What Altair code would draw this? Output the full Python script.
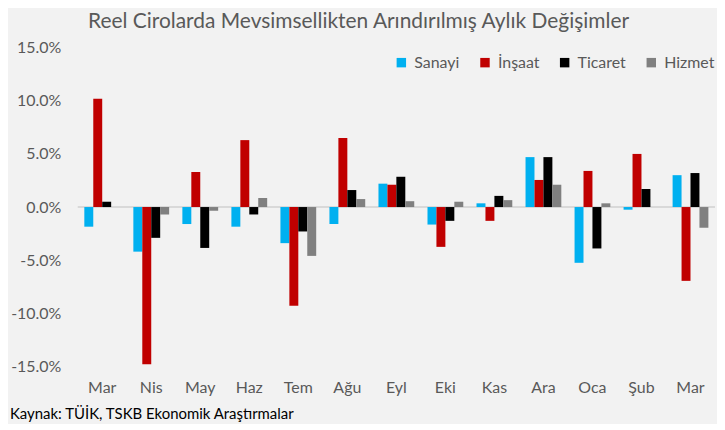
import altair as alt
import pandas as pd

months = ["Mar", "Nis", "May", "Haz", "Tem", "Ağu", "Eyl", "Eki", "Kas", "Ara", "Oca", "Şub", "Mar"]
series = ["Sanayi", "İnşaat", "Ticaret", "Hizmet"]
colors = ["#00b0f0", "#c00000", "#000000", "#808080"]

sanayi = [-1.85, -4.2, -1.6, -1.85, -3.4, -1.6, 2.2, -1.65, 0.35, 4.7, -5.25, -0.25, 3.0]
insaat = [10.2, -14.8, 3.3, 6.3, -9.3, 6.5, 2.1, -3.75, -1.3, 2.55, 3.4, 5.0, -6.95]
ticaret = [0.5, -2.9, -3.85, -0.7, -2.3, 1.6, 2.85, -1.3, 1.05, 4.7, -3.9, 1.7, 3.2]
hizmet = [0.0, -0.7, -0.35, 0.85, -4.6, 0.75, 0.55, 0.5, 0.65, 2.1, 0.35, 0.0, -1.95]

rows = []
for name, vals in zip(series, [sanayi, insaat, ticaret, hizmet]):
    for i, v in enumerate(vals):
        rows.append({"idx": i, "seri": name, "deger": v})
df = pd.DataFrame(rows)

FONT = "Lato"
GRAY = "#595959"
label_expr = "[" + ",".join("'" + m + "'" for m in months) + "][datum.value]"

bars = alt.Chart(df).mark_bar().encode(
    x=alt.X("idx:O", title=None,
            scale=alt.Scale(paddingInner=0.27, paddingOuter=0.135),
            axis=alt.Axis(labelExpr=label_expr, labelAngle=0, domain=False, ticks=False,
                          labelPadding=13, labelFontSize=16, labelColor=GRAY, labelFont=FONT)),
    xOffset=alt.XOffset("seri:N", sort=series, scale=alt.Scale(paddingInner=0, paddingOuter=0)),
    y=alt.Y("deger:Q", title=None,
            scale=alt.Scale(domain=[-15, 15], nice=False),
            axis=alt.Axis(values=[-15, -10, -5, 0, 5, 10, 15], grid=False, domain=False, ticks=False,
                          labelExpr="replace(format(datum.value, '.1f'), '−', '-') + '%'",
                          labelPadding=17, labelFontSize=16, labelColor=GRAY, labelFont=FONT)),
    color=alt.Color("seri:N", sort=series,
                    scale=alt.Scale(domain=series, range=colors),
                    legend=alt.Legend(title=None, orient="none", direction="horizontal",
                                      legendX=317, legendY=7, symbolType="square",
                                      symbolSize=90, symbolStrokeWidth=0,
                                      labelFontSize=16, labelColor=GRAY, labelFont=FONT,
                                      columnPadding=17, symbolOffset=0, labelOffset=5)),
)

zero = alt.Chart(pd.DataFrame({"y": [0]})).mark_rule(color="#d9d9d9", strokeWidth=2).encode(y="y:Q")

source = alt.Chart(pd.DataFrame({"t": ["Kaynak: TÜİK, TSKB Ekonomik Araştırmalar"]})).mark_text(
    align="left", baseline="middle", fontSize=15, font=FONT, color="#000000"
).encode(x=alt.value(-68), y=alt.value(368), text="t:N")

chart = alt.layer(zero, bars, source).properties(
    width=640, height=320,
    autosize=alt.AutoSizeParams(type="none"),
    padding={"left": 70, "top": 39, "right": 2, "bottom": 57},
    background="#f2f2f2",
    title=alt.TitleParams("Reel Cirolarda Mevsimsellikten Arındırılmış Aylık Değişimler",
                          fontSize=21, font=FONT, fontWeight="normal", color=GRAY,
                          anchor="middle", dx=-38, offset=8),
).configure_view(stroke=None)

chart.save("out.html", embed_options={"renderer": "svg", "actions": False})
